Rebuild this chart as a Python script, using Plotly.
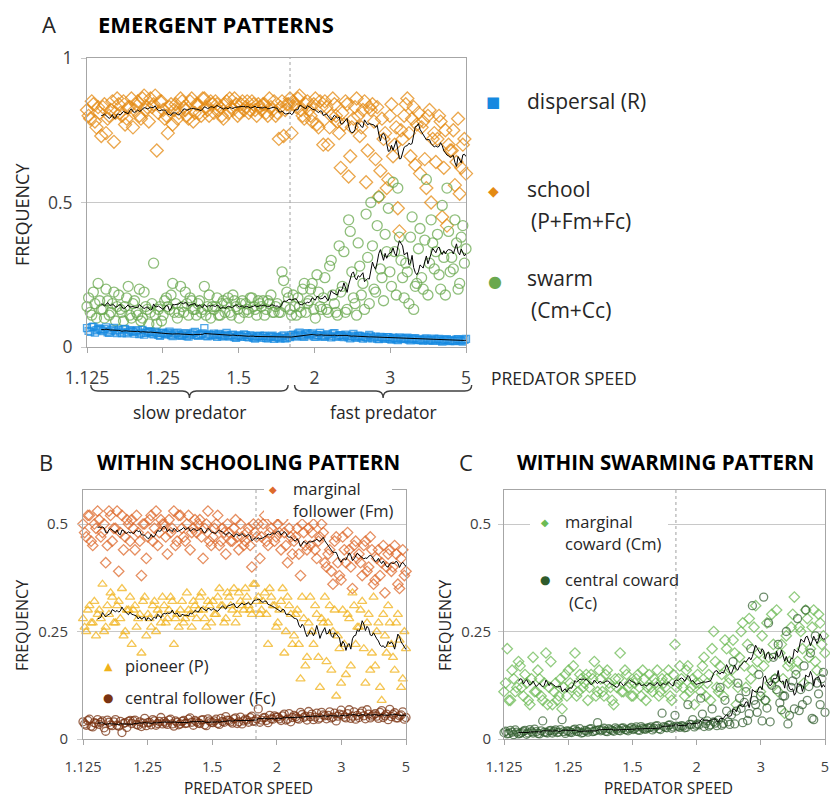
import numpy as np
import pandas as pd
import plotly.graph_objects as go

# ---------------------------------------------------------------------------
# Data: frequencies in percent, two replicate runs per speed step, runs
# ordered by predator speed and spaced evenly along the log-scaled speed axis
# ---------------------------------------------------------------------------
SPEED_TICKS = [1.125, 1.25, 1.5, 2, 3, 5]
SPEED_TICK_TEXT = ["1.125", "1.25", "1.5", "2", "3", "5"]
BOUNDARY_SPEED = 1.8          # slow / fast predator boundary

# Panel A - emergent patterns
DISPERSAL_RUN1 = [
    6.5, 5.2, 7.0, 5.8, 6.2, 5.5, 6.8, 4.9, 6.0, 5.4, 5.9, 4.8, 6.3, 5.1, 5.6,
    4.6, 5.8, 5.0, 4.3, 5.5, 5.2, 4.4, 4.9, 3.9, 5.0, 4.5, 5.3, 3.8, 4.7, 4.2,
    4.0, 4.8, 3.6, 4.4, 5.2, 3.9, 4.5, 6.5, 3.7, 4.1, 4.6, 3.5, 4.2, 3.8, 4.9,
    3.6, 4.3, 3.2, 4.0, 3.5, 4.1, 3.3, 3.8, 2.9, 3.7, 3.2, 3.9, 3.0, 3.6, 2.8,
    3.5, 2.9, 4.0, 3.1, 3.4, 4.3, 3.6, 5.0, 3.8, 4.5, 4.0, 4.7, 3.5, 4.2, 3.8,
    3.6, 4.4, 3.3, 4.8, 3.9, 4.1, 3.4, 3.9, 3.0, 4.5, 3.2, 3.8, 2.9, 3.5, 4.2,
    3.0, 3.6, 2.7, 3.3, 2.8, 3.4, 2.6, 3.1, 2.4, 3.0, 2.7, 3.2, 2.3, 2.9, 2.5,
    2.6, 2.2, 3.0, 2.4, 2.1, 2.3, 2.8, 1.9, 2.5, 2.2, 2.4, 2.0, 2.7, 2.2, 2.5,
]
DISPERSAL_RUN2 = [
    5.6, 6.9, 5.0, 6.4, 5.9, 6.2, 5.1, 5.7, 6.6, 4.8, 5.3, 6.1, 4.7, 5.8, 5.2,
    5.4, 4.5, 5.9, 4.9, 5.1, 4.6, 5.3, 4.2, 4.8, 4.4, 4.9, 4.1, 4.6, 5.0, 3.9,
    4.5, 3.8, 4.3, 4.9, 4.1, 4.2, 4.7, 3.9, 4.4, 4.0, 4.0, 4.5, 3.7, 4.3, 3.9,
    4.1, 3.4, 3.9, 3.7, 4.4, 3.5, 4.0, 3.2, 3.6, 3.9, 3.7, 3.1, 3.5, 3.9, 3.3,
    3.2, 3.7, 3.0, 3.6, 4.1, 3.9, 4.6, 4.1, 3.5, 4.8, 4.4, 3.7, 4.1, 4.9, 3.6,
    4.2, 3.8, 4.6, 3.5, 4.0, 3.7, 4.3, 3.3, 3.8, 3.5, 3.9, 3.3, 3.6, 3.1, 3.7,
    3.3, 2.9, 3.5, 3.1, 3.4, 2.8, 3.2, 2.7, 3.3, 2.9, 3.0, 2.6, 2.8, 3.1, 2.4,
    2.4, 2.8, 2.3, 2.6, 2.9, 2.6, 2.1, 2.4, 2.7, 2.0, 2.1, 2.6, 2.3, 1.9, 2.8,
]
SCHOOL_RUN1 = [
    82, 79, 84, 76, 81, 83, 74, 80, 85, 81, 84, 80, 77, 83, 86,
    82, 85, 79, 87, 83, 86, 84, 68, 85, 82, 80, 83, 77, 84, 81,
    85, 82, 79, 86, 81, 84, 80, 86, 82, 85, 81, 84, 83, 79, 85,
    86, 82, 84, 81, 85, 83, 81, 85, 82, 84, 82, 84, 80, 83, 85,
    81, 83, 73, 84, 86, 85, 83, 87, 80, 84, 82, 78, 86, 76, 83,
    85, 70, 80, 84, 78, 62, 77, 84, 66, 79, 86, 73, 82, 57, 83,
    84, 65, 52, 79, 74, 58, 84, 70, 48, 75, 80, 86, 66, 83, 77,
    60, 78, 55, 82, 72, 64, 80, 45, 75, 70, 68, 56, 79, 62, 72,
]
SCHOOL_RUN2 = [
    80, 85, 78, 83, 73, 84, 79, 82, 71, 86, 81, 85, 79, 83, 76,
    84, 80, 86, 82, 78, 83, 87, 81, 85, 79, 74, 84, 82, 79, 86,
    83, 80, 85, 78, 84, 81, 86, 83, 80, 84, 85, 82, 80, 84, 81,
    83, 86, 80, 84, 82, 85, 82, 84, 80, 83, 84, 81, 86, 82, 80,
    72, 85, 82, 84, 74, 84, 86, 82, 79, 85, 80, 84, 77, 85, 70,
    83, 76, 86, 80, 74, 81, 85, 59, 76, 83, 80, 76, 85, 68, 82,
    78, 83, 61, 72, 55, 80, 66, 76, 40, 72, 84, 74, 79, 63, 81,
    76, 65, 80, 50, 74, 72, 78, 62, 42, 68, 75, 64, 53, 70, 60,
]
SWARM_RUN1 = [
    14, 12, 19, 10, 16, 13, 20, 11, 15, 9, 18, 12, 14, 21, 10,
    16, 11, 9, 19, 13, 12, 29, 8, 14, 11, 17, 13, 22, 15, 12,
    14, 19, 11, 16, 13, 15, 12, 21, 14, 10, 13, 17, 11, 16, 15,
    12, 18, 14, 10, 16, 15, 12, 17, 13, 16, 14, 11, 16, 18, 12,
    15, 12, 23, 19, 13, 18, 11, 14, 20, 12, 16, 22, 10, 19, 13,
    24, 12, 30, 15, 11, 19, 33, 13, 40, 17, 11, 28, 22, 46, 15,
    35, 19, 52, 24, 39, 48, 21, 33, 55, 30, 17, 26, 38, 13, 22,
    41, 20, 58, 29, 36, 33, 25, 49, 18, 40, 31, 44, 20, 38, 29,
]
SWARM_RUN2 = [
    17, 11, 15, 22, 13, 10, 16, 12, 19, 14, 13, 9, 17, 11, 15,
    12, 20, 10, 14, 8, 15, 11, 13, 9, 16, 14, 18, 12, 10, 21,
    12, 15, 17, 13, 11, 16, 13, 11, 18, 14, 14, 11, 15, 12, 17,
    11, 16, 13, 15, 12, 13, 17, 14, 11, 15, 16, 13, 15, 12, 14,
    12, 26, 14, 17, 11, 14, 17, 12, 22, 15, 20, 13, 25, 14, 17,
    13, 28, 18, 12, 35, 21, 12, 44, 26, 15, 36, 18, 13, 31, 50,
    20, 42, 27, 16, 33, 26, 57, 18, 38, 24, 29, 15, 45, 21, 34,
    24, 37, 18, 44, 27, 39, 20, 31, 55, 26, 27, 36, 22, 42, 34,
]

# Panel B - roles within the schooling pattern
MARGINAL_FOLLOWER_RUN1 = [
    50, 47, 52, 45, 49, 51, 48, 41, 53, 46, 49, 39, 52, 47, 50,
    51, 44, 48, 38, 50, 47, 52, 49, 45, 51, 50, 43, 48, 53, 46,
    52, 47, 50, 44, 49, 48, 51, 42, 50, 46, 47, 50, 45, 49, 43,
    48, 46, 51, 44, 47, 46, 49, 40, 48, 50, 47, 52, 45, 49, 46,
    50, 44, 48, 41, 47, 46, 49, 38, 48, 44, 45, 50, 42, 47, 48,
    40, 44, 36, 47, 38, 47, 41, 44, 35, 46, 43, 38, 46, 40, 44,
    37, 44, 41, 34, 43, 39, 45, 36, 42, 38,
]
MARGINAL_FOLLOWER_RUN2 = [
    48, 52, 46, 50, 53, 47, 50, 45, 52, 49, 53, 48, 44, 51, 46,
    49, 52, 46, 50, 42, 51, 46, 53, 48, 50, 47, 51, 49, 45, 52,
    49, 46, 52, 48, 51, 50, 47, 49, 53, 45, 49, 52, 46, 48, 50,
    46, 49, 47, 50, 45, 48, 45, 50, 47, 42, 50, 46, 48, 51, 47,
    48, 51, 45, 49, 43, 47, 43, 50, 45, 49, 48, 44, 46, 50, 41,
    43, 39, 46, 41, 37, 44, 48, 40, 45, 42, 41, 45, 39, 47, 36,
    42, 38, 45, 40, 44, 40, 43, 35, 44, 39,
]
PIONEER_RUN1 = [
    28, 25, 31, 27, 24, 30, 36, 26, 29, 33, 27, 32, 35, 25, 30,
    22, 31, 28, 20, 33, 29, 26, 32, 30, 27, 31, 28, 33, 22, 29,
    30, 27, 34, 29, 32, 28, 33, 30, 26, 31, 32, 29, 35, 31, 28,
    33, 30, 27, 34, 31, 35, 31, 29, 36, 33, 30, 34, 22, 33, 31,
    27, 32, 20, 33, 29, 24, 30, 14, 28, 19, 33, 22, 29, 12, 27,
    18, 31, 25, 10, 21, 30, 15, 28, 34, 22, 26, 32, 13, 29, 20,
    17, 27, 9, 24, 31, 22, 16, 29, 12, 25,
]
PIONEER_RUN2 = [
    26, 30, 27, 32, 29, 28, 25, 31, 34, 27, 31, 28, 24, 30, 33,
    30, 26, 29, 32, 24, 28, 31, 25, 29, 33, 27, 30, 32, 28, 26,
    32, 28, 30, 26, 31, 30, 34, 28, 32, 27, 29, 33, 31, 27, 34,
    31, 35, 29, 32, 30, 33, 30, 36, 32, 29, 32, 29, 35, 31, 26,
    30, 35, 25, 31, 22, 29, 22, 33, 17, 27, 25, 31, 19, 28, 33,
    27, 16, 30, 24, 13, 22, 29, 17, 31, 26, 30, 21, 27, 16, 33,
    25, 12, 29, 20, 27, 19, 27, 23, 14, 21,
]
CENTRAL_FOLLOWER_RUN1 = [
    4.0, 3.2, 4.6, 2.8, 3.6, 3.4, 4.2, 1.8, 3.9, 3.1, 4.5, 3.0, 1.5, 3.8, 4.1,
    3.6, 4.4, 3.2, 2.9, 4.8, 3.8, 3.3, 4.2, 3.6, 5.0, 4.1, 3.4, 4.6, 3.0, 3.9,
    3.5, 4.3, 3.7, 4.9, 3.2, 4.0, 3.6, 4.5, 3.1, 4.2, 3.8, 4.6, 3.4, 4.1, 5.2,
    4.3, 3.7, 4.9, 4.0, 3.5, 4.6, 3.9, 5.3, 4.2, 7.0, 4.4, 5.0, 3.8, 4.7, 5.4,
    5.1, 4.3, 5.8, 4.6, 4.0, 5.5, 4.8, 6.2, 5.0, 4.4, 5.2, 4.5, 6.0, 4.9, 5.6,
    4.7, 6.3, 5.1, 4.2, 5.8, 5.6, 4.9, 6.8, 5.3, 4.6, 5.0, 6.5, 4.7, 5.8, 5.3,
    5.9, 4.8, 6.6, 5.4, 4.5, 5.2, 6.1, 4.9, 5.6, 4.6,
]
CENTRAL_FOLLOWER_RUN2 = [
    3.5, 4.3, 3.0, 3.8, 4.5, 3.9, 2.6, 4.4, 3.3, 4.0, 3.2, 4.1, 3.6, 2.7, 4.3,
    4.2, 3.4, 4.0, 3.7, 3.1, 3.9, 4.5, 3.2, 4.1, 3.5, 3.7, 4.4, 3.5, 4.2, 3.3,
    4.1, 3.6, 4.6, 3.9, 4.3, 3.7, 4.4, 3.3, 4.7, 3.9, 4.2, 3.6, 4.8, 3.9, 4.4,
    4.0, 4.7, 3.6, 5.1, 4.2, 4.4, 5.0, 4.1, 4.7, 3.9, 4.9, 4.3, 5.5, 4.6, 5.1,
    4.7, 5.4, 4.4, 5.9, 5.0, 5.2, 4.6, 5.7, 5.3, 6.4, 5.8, 5.1, 4.6, 6.2, 5.4,
    5.5, 4.9, 6.0, 5.3, 6.7, 5.1, 5.9, 4.8, 6.3, 5.5, 6.0, 5.4, 6.8, 4.9, 5.6,
    5.3, 6.2, 5.0, 5.8, 6.9, 5.7, 4.9, 5.4, 6.3, 5.0,
]

# Panel C - roles within the swarming pattern
MARGINAL_COWARD_RUN1 = [
    11, 21, 9, 14, 12, 17, 10, 13, 8, 19, 11, 14, 9, 20, 12,
    8, 13, 10, 7, 15, 16, 12, 20, 11, 14, 13, 9, 15, 18, 11,
    14, 10, 16, 12, 8, 12, 20, 11, 15, 13, 10, 14, 12, 16, 9,
    15, 11, 13, 10, 14, 12, 16, 9, 22, 13, 14, 10, 17, 12, 8,
    15, 11, 19, 13, 9, 25, 12, 17, 10, 21, 14, 23, 8, 19, 27,
    12, 28, 16, 31, 20, 24, 9, 19, 29, 14, 11, 22, 6, 17, 26,
    33, 18, 25, 13, 28, 21, 30, 16, 27, 24,
]
MARGINAL_COWARD_RUN2 = [
    13, 9, 16, 11, 18, 12, 15, 9, 14, 11, 16, 10, 13, 8, 18,
    11, 9, 14, 12, 10, 13, 17, 10, 15, 12, 15, 12, 14, 10, 16,
    11, 15, 13, 9, 14, 14, 11, 16, 12, 10, 13, 15, 10, 14, 12,
    12, 14, 16, 11, 13, 14, 10, 15, 12, 17, 12, 16, 11, 14, 13,
    13, 17, 10, 15, 21, 18, 11, 15, 23, 13, 16, 20, 12, 25, 17,
    22, 14, 26, 18, 11, 17, 27, 13, 22, 30, 20, 14, 24, 18, 29,
    16, 26, 21, 30, 19, 26, 18, 29, 22, 20,
]
CENTRAL_COWARD_RUN1 = [
    1.5, 1.2, 2.0, 1.0, 1.6, 1.3, 1.8, 1.1, 2.2, 1.4, 1.7, 1.2, 4.2, 1.5, 1.9,
    1.4, 2.1, 1.6, 4.5, 1.3, 1.8, 1.5, 2.3, 1.7, 1.4, 2.0, 1.6, 2.4, 1.8, 3.8,
    1.9, 2.5, 1.7, 2.2, 1.8, 2.3, 1.9, 2.6, 2.1, 2.4, 2.2, 2.8, 2.0, 2.5, 2.3,
    2.6, 2.1, 3.0, 2.4, 6.0, 2.7, 3.2, 2.5, 5.5, 2.9, 3.1, 2.6, 8.0, 3.4, 2.8,
    3.5, 9.5, 2.9, 4.2, 3.3, 4.0, 3.1, 12.0, 3.6, 6.5, 3.4, 18.0, 6.5, 9.5, 3.8,
    11.0, 5.9, 31.0, 8.0, 15.0, 4.2, 9.0, 27.0, 12.5, 14.0, 22.0, 6.8, 10.0, 3.5, 12.0,
    7.0, 28.0, 11.5, 17.0, 9.0, 20.0, 4.5, 13.0, 8.0, 15.5,
]
CENTRAL_COWARD_RUN2 = [
    1.8, 1.3, 1.6, 2.1, 1.2, 1.5, 2.0, 1.4, 1.7, 2.3, 1.3, 1.9, 1.6, 1.4, 2.0,
    1.8, 1.5, 2.2, 1.7, 1.9, 1.6, 2.1, 1.8, 2.4, 1.5, 1.9, 2.3, 1.7, 2.0, 2.2,
    2.1, 1.8, 2.4, 2.0, 2.6, 2.0, 2.5, 2.2, 1.9, 2.7, 2.4, 2.1, 2.9, 2.3, 2.6,
    2.8, 2.5, 3.1, 2.2, 2.9, 2.6, 3.3, 2.8, 3.0, 2.7, 3.0, 2.7, 3.4, 4.5, 3.2,
    3.3, 5.8, 3.6, 3.0, 7.0, 3.7, 4.4, 3.2, 9.0, 4.0, 5.6, 3.5, 13.0, 7.1, 8.5,
    4.3, 21.0, 9.0, 6.2, 10.0, 33.0, 7.2, 4.0, 19.0, 11.5, 8.4, 10.0, 25.0, 5.5, 13.5,
    15.0, 6.6, 8.0, 30.0, 12.2, 4.8, 24.0, 10.5, 14.0, 6.2,
]

# ---------------------------------------------------------------------------
# Styling
# ---------------------------------------------------------------------------
W, H = 830, 801
FONT = "Open Sans"
GLYPH_FONT = "DejaVu Sans"
TEXT = "#262626"
TICK_TEXT = "#404040"
FRAME = "#a6a6a6"
GRID = "#c8c8c8"

C_DISPERSAL = "#1589e0"
C_SCHOOL = "#e48a12"
C_SWARM = "#6aa84f"
C_FM = "#dd6a2c"
C_P = "#f0b21a"
C_FC = "#7a3312"
C_CM = "#6dbb55"
C_CC = "#2f5b2c"

MA_WINDOW = 10


def speed_level(speed):
    """Position on the speed axis: log2(speed - 1), shifted so 1.125 -> 0."""
    return np.log2(np.asarray(speed, dtype=float) - 1.0) + 3.0


TICK_LEVELS = speed_level(SPEED_TICKS)
BOUNDARY_LEVEL = float(speed_level(BOUNDARY_SPEED))


def runs(run1, run2):
    """Interleave the two replicates and place them along the speed axis."""
    freq = np.column_stack([run1, run2]).ravel().astype(float) / 100.0
    level = np.linspace(TICK_LEVELS[0], TICK_LEVELS[-1], len(freq))
    return level, freq


# pixel -> paper helpers for layout placement
def PX(x):
    return x / W


def PY(y):
    return 1 - y / H


fig = go.Figure()


def add_series(run1, run2, color, symbol, size, xa, ya, opacity=0.75):
    level, freq = runs(run1, run2)
    fig.add_trace(go.Scatter(
        x=level, y=freq, mode="markers", xaxis=xa, yaxis=ya,
        cliponaxis=False, showlegend=False, hoverinfo="skip",
        marker=dict(symbol=symbol, size=size, color=color, opacity=opacity,
                    line=dict(color=color, width=1.3)),
    ))


def add_trend(run1, run2, xa, ya):
    level, freq = runs(run1, run2)
    trend = pd.Series(freq).rolling(MA_WINDOW).mean()
    fig.add_trace(go.Scatter(
        x=level, y=trend, mode="lines", xaxis=xa, yaxis=ya,
        showlegend=False, hoverinfo="skip",
        line=dict(color="black", width=1),
    ))


# Panel A
add_series(SCHOOL_RUN1, SCHOOL_RUN2, C_SCHOOL, "diamond-open", 10, "x", "y")
add_series(SWARM_RUN1, SWARM_RUN2, C_SWARM, "circle-open", 10, "x", "y")
add_series(DISPERSAL_RUN1, DISPERSAL_RUN2, C_DISPERSAL, "square-open", 7, "x", "y")
for r1, r2 in ((SCHOOL_RUN1, SCHOOL_RUN2), (SWARM_RUN1, SWARM_RUN2),
               (DISPERSAL_RUN1, DISPERSAL_RUN2)):
    add_trend(r1, r2, "x", "y")

# Panel B
add_series(MARGINAL_FOLLOWER_RUN1, MARGINAL_FOLLOWER_RUN2, C_FM, "diamond-open", 8, "x2", "y2")
add_series(PIONEER_RUN1, PIONEER_RUN2, C_P, "triangle-up-open", 8, "x2", "y2")
add_series(CENTRAL_FOLLOWER_RUN1, CENTRAL_FOLLOWER_RUN2, C_FC, "circle-open", 8, "x2", "y2")
for r1, r2 in ((MARGINAL_FOLLOWER_RUN1, MARGINAL_FOLLOWER_RUN2),
               (PIONEER_RUN1, PIONEER_RUN2),
               (CENTRAL_FOLLOWER_RUN1, CENTRAL_FOLLOWER_RUN2)):
    add_trend(r1, r2, "x2", "y2")

# Panel C
add_series(MARGINAL_COWARD_RUN1, MARGINAL_COWARD_RUN2, C_CM, "diamond-open", 8, "x3", "y3")
add_series(CENTRAL_COWARD_RUN1, CENTRAL_COWARD_RUN2, C_CC, "circle-open", 8, "x3", "y3", 0.7)
for r1, r2 in ((MARGINAL_COWARD_RUN1, MARGINAL_COWARD_RUN2),
               (CENTRAL_COWARD_RUN1, CENTRAL_COWARD_RUN2)):
    add_trend(r1, r2, "x3", "y3")


# ---------------------------------------------------------------------------
# Axes
# ---------------------------------------------------------------------------
def xaxis(domain, anchor, tick_size, standoff):
    return dict(
        domain=domain, anchor=anchor, range=[TICK_LEVELS[0], TICK_LEVELS[-1]],
        tickmode="array", tickvals=list(TICK_LEVELS), ticktext=SPEED_TICK_TEXT,
        showgrid=False, zeroline=False, showline=True, mirror=True,
        linecolor=FRAME, linewidth=1, ticks="outside", ticklen=5,
        tickcolor=FRAME, ticklabelstandoff=standoff, automargin=False,
        tickfont=dict(family=FONT, size=tick_size, color=TICK_TEXT),
    )


def yaxis(domain, anchor, top, tickvals, ticktext, tick_size, standoff):
    return dict(
        domain=domain, anchor=anchor, range=[0, top],
        tickmode="array", tickvals=tickvals, ticktext=ticktext,
        showgrid=True, gridcolor=GRID, gridwidth=1, zeroline=False,
        showline=True, mirror=True, linecolor=FRAME, linewidth=1,
        ticks="outside", ticklen=5, tickcolor=GRID, ticklabelstandoff=standoff,
        automargin=False,
        tickfont=dict(family=FONT, size=tick_size, color=TICK_TEXT),
    )


A_X = [PX(87), PX(466)]
A_Y = [PY(347), PY(58)]
B_X = [PX(83), PX(406)]
C_X = [PX(504), PX(825)]
BC_Y = [PY(739), PY(490)]
BC_TOP = (739 - 490) / 430.0

fig.update_layout(
    width=W, height=H, margin=dict(l=0, r=0, t=0, b=0, autoexpand=False),
    paper_bgcolor="white", plot_bgcolor="white", showlegend=False,
    xaxis=xaxis(A_X, "y", 17.5, 10),
    yaxis=yaxis(A_Y, "x", 1.0, [0, 0.5, 1], ["0", "0.5", "1"], 17.5, 5),
    xaxis2=xaxis(B_X, "y2", 14.5, 10),
    yaxis2=yaxis(BC_Y, "x2", BC_TOP, [0, 0.25, 0.5], ["0", "0.25", "0.5"], 15, 6),
    xaxis3=xaxis(C_X, "y3", 14.5, 10),
    yaxis3=yaxis(BC_Y, "x3", BC_TOP, [0, 0.25, 0.5], ["0", "0.25", "0.5"], 15, 4),
)

# ---------------------------------------------------------------------------
# Shapes: slow/fast boundary lines, brackets, legend backgrounds
# ---------------------------------------------------------------------------
shapes = []
for xa, ya in (("x", "y"), ("x2", "y2"), ("x3", "y3")):
    shapes.append(dict(type="line", xref=xa, yref=f"{ya} domain",
                       x0=BOUNDARY_LEVEL, x1=BOUNDARY_LEVEL, y0=0, y1=1,
                       line=dict(color="#a0a0a0", width=1, dash="dot"),
                       layer="above"))


def level_to_paper_a(level):
    return A_X[0] + (level - TICK_LEVELS[0]) / (TICK_LEVELS[-1] - TICK_LEVELS[0]) * (A_X[1] - A_X[0])


def bracket(l0, l1):
    x0, x1 = level_to_paper_a(l0), level_to_paper_a(l1)
    xm = (x0 + x1) / 2
    yt, yl, yd = PY(385), PY(391), PY(398)
    r = 7 / W
    return (f"M{x0},{yt} Q{x0},{yl} {x0 + r},{yl} L{xm - r},{yl} "
            f"Q{xm},{yl} {xm},{yd} Q{xm},{yl} {xm + r},{yl} "
            f"L{x1 - r},{yl} Q{x1},{yl} {x1},{yt}")


span = TICK_LEVELS[-1] - TICK_LEVELS[0]
slow_span = (TICK_LEVELS[0] + 0.01 * span, BOUNDARY_LEVEL - 0.005 * span)
fast_span = (BOUNDARY_LEVEL + 0.012 * span, TICK_LEVELS[-1] + 0.015 * span)
for a, b in (slow_span, fast_span):
    shapes.append(dict(type="path", xref="paper", yref="paper", path=bracket(a, b),
                       line=dict(color="#404040", width=1.4)))

# white legend boxes over panels B and C
shapes.append(dict(type="rect", xref="paper", yref="paper", layer="above",
                   x0=PX(264), x1=PX(392), y0=PY(519), y1=PY(476),
                   fillcolor="white", line=dict(width=0)))
shapes.append(dict(type="rect", xref="paper", yref="paper", layer="above",
                   x0=PX(530), x1=PX(668), y0=PY(625), y1=PY(497),
                   fillcolor="white", line=dict(width=0)))
fig.update_layout(shapes=shapes)

# ---------------------------------------------------------------------------
# Text
# ---------------------------------------------------------------------------
ann = []


def text(x, y, s, size, anchor="left", bold=False, color=TEXT, angle=0, family=FONT):
    if bold:
        s = f"<b>{s}</b>"
    ann.append(dict(xref="paper", yref="paper", x=PX(x), y=PY(y), text=s,
                    showarrow=False, xanchor=anchor, yanchor="middle",
                    textangle=angle, font=dict(family=family, size=size, color=color)))


def glyph(x, y, ch, size, color):
    text(x, y, ch, size, anchor="center", color=color, family=GLYPH_FONT)


# panel titles
text(40, 24, "A", 22)
text(96, 24, "EMERGENT PATTERNS", 22, bold=True, color="black")
text(37, 462, "B", 22)
text(95, 462, "WITHIN SCHOOLING PATTERN", 20.5, bold=True, color="black")
text(457, 462, "C", 22)
text(515, 462, "WITHIN SWARMING PATTERN", 20.5, bold=True, color="black")

# axis titles
text(22, 215, "FREQUENCY", 18, anchor="center", angle=-90)
text(22, 626, "FREQUENCY", 16, anchor="center", angle=-90)
text(445, 626, "FREQUENCY", 16, anchor="center", angle=-90)
text(489, 378, "PREDATOR SPEED", 17.5)
text(248, 788, "PREDATOR SPEED", 15.5, anchor="center")
text(668, 788, "PREDATOR SPEED", 15.5, anchor="center")

# slow / fast labels under the brackets
text(level_to_paper_a(sum(slow_span) / 2) * W, 412, "slow predator", 17.5, anchor="center")
text(level_to_paper_a(sum(fast_span) / 2) * W, 412, "fast predator", 17.5, anchor="center")

# legend, panel A
glyph(493, 102, "■", 15, C_DISPERSAL)
text(525, 101, "dispersal (R)", 21)
glyph(493, 191, "◆", 14, C_SCHOOL)
text(525, 189, "school", 21)
text(529, 221, "(P+Fm+Fc)", 21)
glyph(495, 281, "●", 16, C_SWARM)
text(525, 278, "swarm", 21)
text(529, 310, "(Cm+Cc)", 21)

# legend, panel B
glyph(273, 489, "◆", 10, C_FM)
text(291, 488, "marginal", 16.5)
text(291, 510, "follower (Fm)", 16.5)
glyph(108, 666, "▲", 11, C_P)
text(123, 665, "pioneer (P)", 16.5)
glyph(108, 698, "●", 12, C_FC)
text(123, 697, "central follower (Fc)", 16.5)

# legend, panel C
glyph(545, 522, "◆", 10, C_CM)
text(563, 521, "marginal", 16.5)
text(563, 543, "coward (Cm)", 16.5)
glyph(545, 580, "●", 12, C_CC)
text(563, 579, "central coward", 16.5)
text(567, 602, "(Cc)", 16.5)

fig.update_layout(annotations=ann)

# the page body keeps no default margin so the figure sits at the window origin
fig.write_html(
    "out.html",
    post_script="document.body.style.margin='0';document.body.style.overflow='hidden';",
)
